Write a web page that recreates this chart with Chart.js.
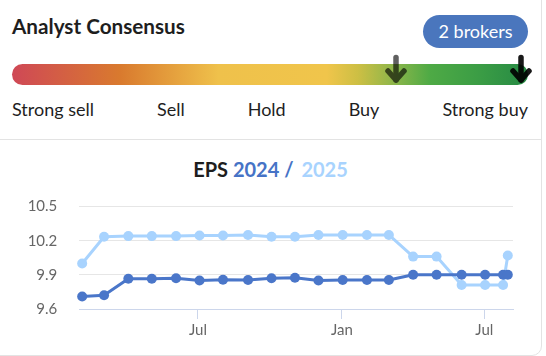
<!DOCTYPE html>
<html>
<head>
<meta charset="utf-8">
<script src="https://cdn.jsdelivr.net/npm/chart.js@4.4.1/dist/chart.umd.min.js"></script>
<style>
html,body{margin:0;padding:0;background:#fff;}
body{width:546px;height:356px;overflow:hidden;position:relative;font-family:Lato,"Open Sans",sans-serif;color:#222;}
.card{position:absolute;left:-20px;top:-20px;width:562px;height:376px;border:1px solid #e3e3e3;border-radius:10px;box-sizing:border-box;}
.sep{position:absolute;left:0;top:139px;width:541px;height:1px;background:#e3e3e3;}
.h{position:absolute;left:12px;top:16px;font-weight:700;font-size:20.7px;line-height:20.7px;white-space:nowrap;color:#1e1e1e;}
.pill{position:absolute;left:423px;top:15px;width:105px;height:33px;border-radius:17px;background:#4a76bd;color:#fff;font-size:18px;line-height:33px;text-align:center;white-space:nowrap;}
.bar{position:absolute;left:12px;top:64px;width:516px;height:21px;border-radius:10.5px;background:linear-gradient(to right,#cf4856 0%,#d97a2e 21%,#efc14b 40%,#f0c54b 61%,#cdbf44 67%,#8db64a 74%,#4eaa45 81%,#3a9c45 91%,#268a44 100%);}
.labels{position:absolute;left:12px;top:100px;width:516px;display:flex;justify-content:space-between;font-size:18px;line-height:18px;white-space:nowrap;color:#1e1e1e;}
.ctitle{position:absolute;left:0;top:159px;width:541px;text-align:center;font-size:20px;line-height:20px;white-space:nowrap;font-weight:700;}
.ctitle .e{color:#1e1e1e;}
.ctitle .a{color:#4673c6;}
.ctitle .b{color:#a8d3fe;margin-left:3px;}
svg.ov{position:absolute;left:0;top:0;}
#c{position:absolute;left:0;top:190px;}
</style>
</head>
<body>
<div class="card"></div>
<div class="sep"></div>
<div class="h">Analyst Consensus</div>
<div class="pill">2 brokers</div>
<div class="bar"></div>
<svg class="ov" width="546" height="100">
  <g opacity="0.62" stroke="#000" stroke-width="5.5" stroke-linecap="round" stroke-linejoin="round" fill="none">
    <path d="M396 57.5 L396 80"/><path d="M388 71 L396 80 L404 71"/>
  </g>
  <g opacity="0.9" stroke="#000" stroke-width="5.5" stroke-linecap="round" stroke-linejoin="round" fill="none">
    <path d="M521 57.5 L521 80"/><path d="M513 71 L521 80 L529 71"/>
  </g>
</svg>
<div class="labels"><span>Strong sell</span><span>Sell</span><span>Hold</span><span>Buy</span><span>Strong buy</span></div>
<div class="ctitle"><span class="e">EPS</span> <span class="a">2024 /</span> <span class="b">2025</span></div>
<canvas id="c" width="541" height="160"></canvas>
<script>
const dates = ['2023-02-03','2023-03-03','2023-04-03','2023-05-03','2023-06-03','2023-07-03','2023-08-02','2023-09-03','2023-10-03','2023-11-02','2023-12-02','2024-01-02','2024-02-02','2024-03-01','2024-04-01','2024-05-01','2024-06-02','2024-07-02','2024-07-25','2024-07-31'];
const eps2024 = [9.71,9.72,9.865,9.865,9.87,9.85,9.857,9.855,9.87,9.875,9.85,9.855,9.855,9.855,9.90,9.90,9.90,9.90,9.90,9.90];
const eps2025 = [10.00,10.235,10.24,10.24,10.24,10.245,10.245,10.25,10.235,10.235,10.25,10.25,10.25,10.25,10.06,10.06,9.81,9.81,9.81,10.07];
const yTicks = [9.6,9.9,10.2,10.5];
const xTickDates = ['2023-07-01','2024-01-01','2024-07-01'];
const xTickLabels = ['Jul','Jan','Jul'];
const xDomain = ['2023-01-30T08:00','2024-08-06T16:00'];

const ms = s => { const [d,t] = s.split('T'); const [y,m,dd] = d.split('-').map(Number); let h=0; if(t){h=Number(t.split(':')[0]);} return Date.UTC(y,m-1,dd,h); };
const pts = arr => arr.map((v,i)=>({x:ms(dates[i]), y:v}));

const C24 = '#4a76c9', C25 = '#a8d3fe';
const ds = (label, arr, col) => ({label, data:pts(arr), borderColor:col, backgroundColor:col, pointBackgroundColor:col, borderWidth:3, pointRadius:5, pointHoverRadius:5, pointBorderWidth:0, tension:0, clip:false, borderJoinStyle:'round', borderCapStyle:'round'});

new Chart(document.getElementById('c'), {
  type:'line',
  data:{datasets:[ds('2024', eps2024, C24), ds('2025', eps2025, C25)]},
  options:{
    responsive:false, animation:false, events:[],
    layout:{padding:{top:16.5,right:28,left:0,bottom:0}},
    plugins:{legend:{display:false}, tooltip:{enabled:false}},
    scales:{
      x:{type:'linear', min:ms(xDomain[0]), max:ms(xDomain[1]),
         afterBuildTicks:s=>{ s.ticks = xTickDates.map(d=>({value:ms(d)})); },
         afterFit:s=>{ s.height = 41; },
         ticks:{callback:(v,i)=>xTickLabels[i], color:'#666', font:{family:'Lato',size:15}, padding:2, maxRotation:0, autoSkip:false},
         grid:{drawOnChartArea:false, color:'#ccd6eb', tickLength:10},
         border:{color:'#ccd6eb', width:1}},
      y:{min:yTicks[0], max:yTicks[yTicks.length-1],
         afterBuildTicks:s=>{ s.ticks = yTicks.map(v=>({value:v})); },
         afterFit:s=>{ s.width = 79.3; s.paddingTop = 0; s.paddingBottom = 0; },
         ticks:{callback:v=>v.toFixed(1), color:'#666', font:{family:'Lato',size:15}, padding:22},
         grid:{drawTicks:false, color:c=>c.index===0?'rgba(0,0,0,0)':'#e6e6e6'},
         border:{display:false}}
    }
  }
});
</script>
</body>
</html>
